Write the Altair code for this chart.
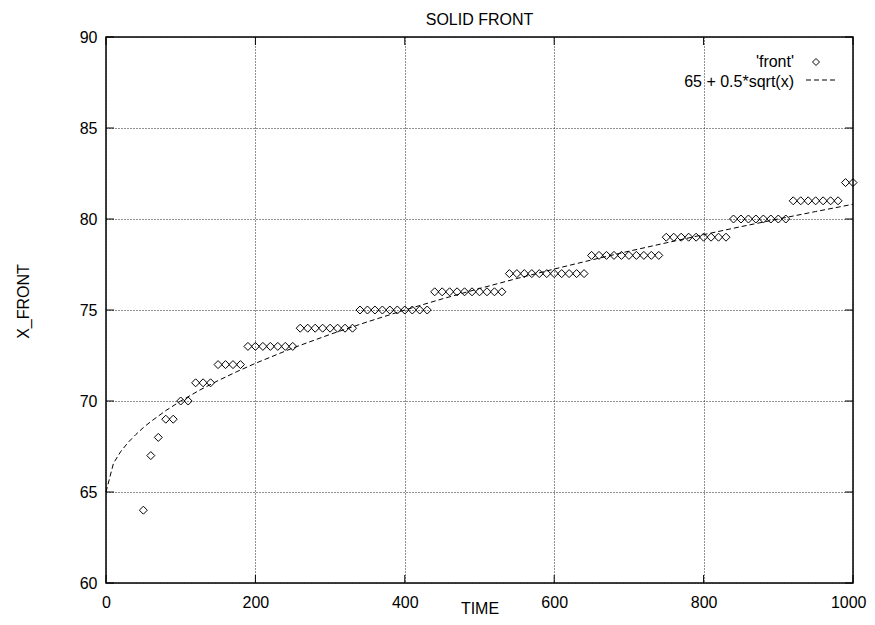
import altair as alt
import pandas as pd

# ---- data ----
front_time = [50, 60, 70, 80, 90, 100, 110, 120, 130, 140, 150, 160, 170, 180, 190,
              200, 210, 220, 230, 240, 250, 260, 270, 280, 290, 300, 310, 320, 330,
              340, 350, 360, 370, 380, 390, 400, 410, 420, 430, 440, 450, 460, 470,
              480, 490, 500, 510, 520, 530, 540, 550, 560, 570, 580, 590, 600, 610,
              620, 630, 640, 650, 660, 670, 680, 690, 700, 710, 720, 730, 740, 750,
              760, 770, 780, 790, 800, 810, 820, 830, 840, 850, 860, 870, 880, 890,
              900, 910, 920, 930, 940, 950, 960, 970, 980, 990, 1000]
front_x = [64, 67, 68, 69, 69, 70, 70, 71, 71, 71,
           72, 72, 72, 72,
           73, 73, 73, 73, 73, 73, 73,
           74, 74, 74, 74, 74, 74, 74, 74,
           75, 75, 75, 75, 75, 75, 75, 75, 75, 75,
           76, 76, 76, 76, 76, 76, 76, 76, 76, 76,
           77, 77, 77, 77, 77, 77, 77, 77, 77, 77, 77,
           78, 78, 78, 78, 78, 78, 78, 78, 78, 78,
           79, 79, 79, 79, 79, 79, 79, 79, 79,
           80, 80, 80, 80, 80, 80, 80, 80,
           81, 81, 81, 81, 81, 81, 81,
           82, 82]

curve_x = [0, 10, 20, 30, 40, 50, 60, 80, 100, 125, 150, 175, 200, 250, 300, 350,
           400, 450, 500, 550, 600, 650, 700, 750, 800, 850, 900, 950, 1000]
curve_y = [65.0, 66.58, 67.24, 67.74, 68.16, 68.54, 68.87, 69.47, 70.0, 70.59, 71.12,
           71.61, 72.07, 72.91, 73.66, 74.35, 75.0, 75.61, 76.18, 76.73, 77.25, 77.75,
           78.23, 78.69, 79.14, 79.58, 80.0, 80.41, 80.81]

x_ticks = [0, 200, 400, 600, 800, 1000]
y_ticks = [60, 65, 70, 75, 80, 85, 90]
legend_labels = ["'front'", "65 + 0.5*sqrt(x)"]
chart_title = "SOLID FRONT"

# ---- layout / style ----
W, H = 747, 546
FONT = "Liberation Sans"

pts = pd.DataFrame({"t": front_time, "v": front_x})
crv = pd.DataFrame({"t": curve_x, "v": curve_y})
yt = pd.DataFrame({"v": y_ticks})
xt = pd.DataFrame({"t": x_ticks})

xscale = alt.Scale(domain=[0, 1000], nice=False, zero=False)
yscale = alt.Scale(domain=[60, 90], nice=False, zero=False)

common_axis = dict(grid=True, gridDash=[1, 2], gridColor="#222222", gridWidth=1,
                   ticks=False, domain=False, labelFlush=False, labelOverlap=False,
                   labelFont=FONT, labelFontSize=16, labelColor="black",
                   titleFont=FONT, titleFontSize=16, titleFontWeight="normal",
                   titleColor="black")

xaxis = alt.Axis(values=x_ticks, format="d", title="TIME", labelPadding=11,
                 labelAlign={"condition": {"test": "datum.value >= 1000", "value": "right"},
                             "value": "center"},
                 labelOffset={"condition": {"test": "datum.value >= 1000", "value": 13},
                              "value": 0},
                 titleX=W / 2, titleY=30, titleAlign="center",
                 titleBaseline="alphabetic", **common_axis)
yaxis = alt.Axis(values=y_ticks, format="d", title="X_FRONT", labelPadding=9,
                 titleAngle=270, titleX=-78, titleY=264, titleAlign="center",
                 titleBaseline="alphabetic", **common_axis)


def X():
    return alt.X("t:Q", scale=xscale, axis=xaxis)


def Y():
    return alt.Y("v:Q", scale=yscale, axis=yaxis)


points = alt.Chart(pts).mark_point(
    shape="diamond", size=64, filled=False, color="black", strokeWidth=1, opacity=1
).encode(x=X(), y=Y())

curve = alt.Chart(crv).mark_line(
    color="black", strokeWidth=1, strokeDash=[5, 3]
).encode(x=X(), y=Y())

tick_style = dict(color="black", strokeWidth=1)
t_left = alt.Chart(yt).mark_rule(**tick_style).encode(
    y=Y(), x=alt.value(0), x2=alt.value(8))
t_right = alt.Chart(yt).mark_rule(**tick_style).encode(
    y=Y(), x=alt.value(W - 8), x2=alt.value(W))
t_bottom = alt.Chart(xt).mark_rule(**tick_style).encode(
    x=X(), y=alt.value(H - 8), y2=alt.value(H))
t_top = alt.Chart(xt).mark_rule(**tick_style).encode(
    x=X(), y=alt.value(0), y2=alt.value(8))

text_style = dict(baseline="alphabetic", font=FONT, fontSize=16, color="black")
title_mark = alt.Chart(alt.Data(values=[{"label": chart_title}])).mark_text(
    align="center", **text_style).encode(
    text="label:N", x=alt.value(W / 2), y=alt.value(-12))

leg1 = alt.Chart(alt.Data(values=[{"label": legend_labels[0]}])).mark_text(
    align="right", **text_style).encode(text="label:N", x=alt.value(688), y=alt.value(30))
leg1_sym = alt.Chart(alt.Data(values=[{"label": legend_labels[0]}])).mark_point(
    shape="diamond", size=49, filled=False, color="black", strokeWidth=1, opacity=1
).encode(x=alt.value(710), y=alt.value(25))
leg2 = alt.Chart(alt.Data(values=[{"label": legend_labels[1]}])).mark_text(
    align="right", **text_style).encode(text="label:N", x=alt.value(688), y=alt.value(50))
leg2_line = alt.Chart(alt.Data(values=[{"label": legend_labels[1]}])).mark_rule(
    color="black", strokeWidth=1, strokeDash=[5, 3]
).encode(x=alt.value(700), x2=alt.value(730), y=alt.value(43))

chart = alt.layer(
    curve, points, t_left, t_right, t_bottom, t_top,
    title_mark, leg1, leg1_sym, leg2, leg2_line
).properties(
    width=W, height=H,
    autosize=alt.AutoSizeParams(type="none"),
    padding={"left": 98, "top": 29, "right": 14, "bottom": 34},
).configure_view(stroke="black", strokeWidth=1.5)

chart.save("out.html", embed_options={"renderer": "svg", "actions": False})
